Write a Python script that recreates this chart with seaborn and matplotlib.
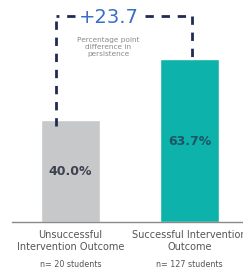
import numpy as np
import pandas as pd
import matplotlib
matplotlib.use('Agg')
import matplotlib.pyplot as plt
import seaborn as sns

# data
outcomes = ['Unsuccessful\nIntervention Outcome', 'Successful Intervention\nOutcome']
persistence = [40.0, 63.7]
n_students = [20, 127]
bar_colors = ['#c7c8ca', '#0db2aa']
value_colors = ['#3d4250', '#1d5566']

df = pd.DataFrame({'outcome': outcomes, 'persistence': persistence})

sns.set_style('white')
plt.rcParams['font.family'] = ['DejaVu Sans']

fig = plt.figure(figsize=(2.43, 2.71), dpi=100)
ax = fig.add_axes([12 / 243, 49 / 271, 231 / 243, 222 / 271])

sns.barplot(data=df, x='outcome', y='persistence', hue='outcome',
            palette=bar_colors, width=0.5, saturation=1, legend=False, ax=ax)

ax.set_xlim(-0.49, 1.45)
ax.set_ylim(0, 87)
ax.set_xlabel('')
ax.set_ylabel('')
ax.set_yticks([])
ax.set_xticks([])
sns.despine(ax=ax, left=True, top=True, right=True)
ax.spines['bottom'].set_color('#8a8a8a')
ax.spines['bottom'].set_linewidth(1)

# values inside bars
label_y = [19.6, 31.4]
for i, v in enumerate(persistence):
    ax.text(i, label_y[i], f'{v:.1f}%', ha='center', va='center',
            fontsize=9, fontweight='bold', color=value_colors[i])

# category labels and n counts (right label runs off the edge, as in the original)
for i, lab in enumerate(outcomes):
    ax.text(i, -3.0, lab, ha='center', va='top', fontsize=7,
            color='#555555', linespacing=1.25, clip_on=False)
    ax.text(i, -14.8, f'n= {n_students[i]} students', ha='center', va='top',
            fontsize=5.8, color='#555555', clip_on=False)

# dashed bracket
top_y = 80.8
lx, rx = -0.12, 1.02
dash_kw = dict(color='#1f2b55', lw=2.0, dashes=(3.0, 2.8), solid_capstyle='butt')
ax.plot([lx, lx], [persistence[0] - 2.5, top_y], **dash_kw)
ax.plot([0.04, lx], [top_y, top_y], **dash_kw)
ax.plot([0.63, rx], [top_y, top_y], **dash_kw)
ax.plot([rx, rx], [top_y, persistence[1]], **dash_kw)

diff = persistence[1] - persistence[0]
ax.text(0.32, 80.3, f'+{diff:.1f}', ha='center', va='center', fontsize=14,
        color='#3a6fc6')
ax.text(0.32, 68.6, 'Percentage point\ndifference in\npersistence', ha='center',
        va='center', fontsize=5.3, color='#8a8a8a', linespacing=1.25)

fig.savefig('out.png', dpi=100)
